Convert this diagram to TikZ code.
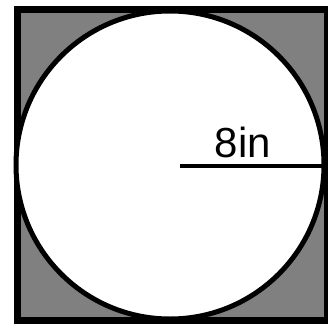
\documentclass[tikz,border=0pt]{standalone}
\usepackage{fontspec}
\setmainfont{Liberation Sans}
\usetikzlibrary{positioning,calc}
\definecolor{plategray}{RGB}{128,128,128}
\tikzset{
  plate/.style={draw=black, fill=plategray, line width=7pt},
  disc/.style={draw=black, fill=white, line width=5pt},
  radius/.style={draw=black, line width=4pt},
  dimlabel/.style={inner sep=0pt, anchor=base, font=\fontsize{42}{46}\selectfont},
}
\begin{document}
\begin{tikzpicture}[x=1pt, y=-1pt]
    \useasboundingbox (0,0) rectangle (328,323);
    \coordinate (c) at (170,165);
    \coordinate (rim) at (324,166);
    \draw[plate] (17,10) rectangle (327,320);
    \draw[disc] (c) circle (154);
    \draw[radius] (180,166) -- (rim);
    \node[dimlabel] (lbl) at (243,157) {8in};
  \end{tikzpicture}
\end{document}
